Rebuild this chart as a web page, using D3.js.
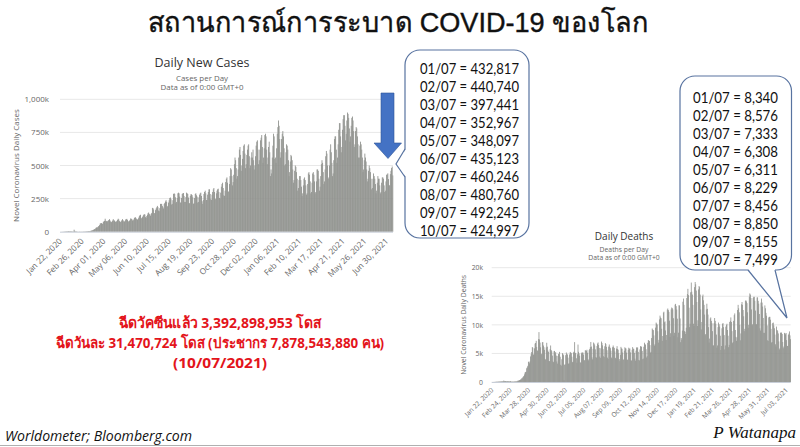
<!DOCTYPE html>
<html><head><meta charset="utf-8">
<script src="https://cdn.jsdelivr.net/npm/d3@7"></script>
<style>body{margin:0;background:#fff;} svg{display:block;}</style>
</head><body>
<svg id="c" width="800" height="447"></svg>
<script>
// ---------------- DATA ----------------
const firstDay = "2020-01-22";
const lastDay = "2021-07-10";

// Daily new cases (thousands), one line per week starting Wed Jan 22 2020
const casesK = [
0.1,0.3,0.3,0.7,0.7,0.8,1.5,
1.7,2.0,2.1,2.6,2.8,3.2,3.9,
3.7,3.2,3.4,2.7,3.0,2.5,2.0,
2.0,15.1,6.5,2.7,2.1,2.1,1.9,
0.6,0.6,1.0,1.7,0.6,0.8,1.0,
1.0,1.2,1.4,1.8,1.6,2.0,2.4,
2.5,2.8,3.9,4.0,4.1,4.0,4.9,
7.3,7.5,10.9,11.0,13.9,16.5,19.6,
21,29,32,31,34,41,43,
50,62,64,65,60,60,75,
77,82,98,83,80,72,80,
85,88,95,84,75,72,76,
84,95,86,84,76,75,77,
82,90,98,92,80,72,75,
80,88,95,86,78,76,82,
92,95,97,88,80,75,82,
88,100,98,95,85,85,92,
105,106,109,100,95,90,96,
106,118,125,128,100,105,110,
120,128,132,130,110,105,118,
128,140,145,135,128,120,135,
142,180,178,168,140,140,163,
175,184,195,185,160,155,178,
210,210,210,195,185,175,210,
218,228,238,225,190,195,220,
238,255,258,245,205,210,238,
285,290,285,260,215,225,255,
290,295,290,265,220,220,255,
285,290,292,270,225,225,262,
295,290,285,258,215,215,270,
283,282,276,260,210,215,255,
285,290,275,265,220,225,260,
280,290,295,270,230,210,240,
285,300,310,290,240,240,280,
300,320,320,285,245,240,280,
300,320,330,300,250,245,290,
310,320,325,300,255,250,295,
340,360,370,330,275,270,310,
375,400,410,370,300,305,360,
420,480,470,420,350,375,430,
510,560,540,480,400,420,470,
560,620,640,580,460,500,550,
610,650,660,590,480,510,580,
620,650,660,570,480,500,560,
600,560,620,540,470,500,570,
650,680,690,620,510,540,620,
690,710,730,640,520,560,630,
730,740,720,620,510,560,640,
680,600,420,470,440,560,650,
740,720,550,560,520,630,740,
790,840,800,700,560,600,700,
740,760,720,630,500,510,600,
660,650,620,540,420,450,530,
580,570,540,470,370,390,460,
500,490,450,400,310,330,390,
420,420,390,340,270,290,350,
400,410,390,350,280,290,360,
440,450,430,380,290,300,370,
440,450,430,380,290,300,380,
470,470,460,400,310,340,420,
510,540,520,450,360,380,470,
570,610,590,500,400,410,500,
620,660,600,520,420,440,540,
700,720,720,620,520,560,660,
770,820,820,720,600,640,770,
850,880,880,800,690,740,840,
900,890,860,780,680,720,800,
860,870,840,760,640,660,760,
790,780,720,660,560,560,650,
680,660,620,560,450,470,540,
590,560,530,470,380,400,460,
500,480,450,400,320,330,400,
440,420,400,360,290,310,370,
420,400,400,350,290,300,370,
410,410,400,350,300,310,380,
430,432.817,440.740,397.441,352.967,348.097,435.123,
460.246,480.760,492.245,424.997
];

// Daily deaths (thousands), same days
const deathsK = [
0.017,0.001,0.008,0.016,0.014,0.026,0.026,
0.038,0.043,0.046,0.045,0.058,0.064,0.066,
0.073,0.073,0.086,0.089,0.097,0.108,0.097,
0.254,0.121,0.143,0.142,0.106,0.098,0.139,
0.115,0.125,0.097,0.099,0.078,0.150,0.068,
0.061,0.063,0.069,0.058,0.072,0.070,0.090,
0.082,0.101,0.101,0.103,0.223,0.214,0.285,
0.325,0.352,0.445,0.426,0.623,0.658,0.822,
0.964,1.062,1.325,1.662,1.735,1.807,2.404,
2.580,2.832,3.548,3.519,3.272,3.611,4.476,
4.879,5.237,6.117,5.988,4.784,4.830,5.891,
6.712,6.830,7.208,6.141,5.531,5.432,7.502,
8.731,7.450,6.897,6.069,4.836,4.943,6.942,
6.990,6.383,6.083,5.626,4.037,3.905,6.057,
6.866,6.183,5.513,5.282,3.665,3.646,5.744,
6.391,5.578,5.375,4.622,3.597,3.475,5.384,
5.443,4.994,5.232,4.612,3.594,3.223,4.566,
4.926,4.803,5.271,4.419,3.024,2.856,3.985,
5.053,4.897,4.697,0.300,3.023,3.099,4.691,
5.166,4.924,4.805,4.261,3.195,3.278,4.825,
5.266,5.151,5.044,4.428,3.465,3.547,5.180,
5.314,6.982,5.106,5.020,4.158,3.373,4.849,
6.553,5.286,4.996,4.591,3.446,3.350,5.021,
5.175,5.134,5.153,4.778,3.822,3.783,5.577,
5.462,5.450,5.640,5.125,3.986,3.792,5.574,
5.790,6.109,7.005,6.205,4.313,3.961,5.804,
6.907,6.716,6.412,5.722,4.362,4.256,6.290,
6.730,6.920,6.470,5.965,4.453,4.221,5.908,
7.082,6.834,6.412,5.745,4.518,4.352,6.254,
6.802,6.634,6.152,5.560,4.265,4.028,6.193,
6.567,6.174,5.923,5.473,4.281,4.064,6.079,
6.391,6.109,5.949,5.355,4.232,3.988,5.854,
6.272,5.766,5.655,5.037,4.002,3.650,4.760,
6.149,5.885,5.814,5.164,3.868,3.958,5.480,
6.070,5.900,5.867,5.146,3.944,3.864,5.622,
6.004,5.825,5.855,5.184,3.809,3.733,5.617,
6.107,5.827,5.797,5.102,4.092,3.736,5.488,
6.050,6.016,6.045,5.277,3.861,3.774,5.706,
6.278,6.165,6.192,5.435,3.991,4.103,6.169,
6.875,6.608,6.531,5.733,4.290,4.518,6.854,
7.337,7.253,7.162,6.451,5.139,5.285,7.692,
9.363,9.156,9.075,8.156,6.372,6.614,9.513,
10.398,10.217,10.066,8.878,6.893,7.372,10.954,
11.616,11.291,11.156,9.316,7.198,8.047,12.143,
12.303,10.450,10.604,9.025,7.350,8.225,12.660,
12.862,12.576,12.262,10.734,7.867,8.540,12.698,
13.034,12.916,12.683,11.164,8.102,8.617,13.530,
13.671,13.273,12.676,11.078,7.829,8.634,13.432,
13.386,11.120,6.969,7.700,7.420,9.000,14.050,
14.600,13.500,8.900,8.800,8.400,9.500,14.700,
15.400,16.300,15.200,13.000,9.600,10.200,15.700,
17.400,15.800,15.300,13.500,10.200,9.800,16.600,
17.500,17.100,16.000,14.000,9.800,10.800,16.200,
16.800,16.600,15.300,12.700,9.200,10.500,15.000,
15.300,14.300,13.500,11.800,8.200,8.400,12.700,
13.700,12.800,11.800,9.600,6.900,7.600,11.100,
11.300,10.700,10.300,8.900,6.400,6.400,10.300,
11.200,10.700,10.200,8.300,6.000,6.400,9.600,
10.400,10.100,9.700,8.100,5.600,6.300,9.400,
10.200,10.300,9.600,8.200,5.700,6.400,9.700,
10.000,10.200,9.100,8.100,6.100,6.500,10.500,
10.700,11.300,10.500,8.900,6.800,7.000,10.700,
11.700,12.000,9.100,7.900,7.200,7.800,12.600,
13.500,12.900,12.200,10.000,7.300,8.500,13.600,
14.000,13.500,12.600,11.500,8.900,9.300,14.200,
14.300,14.100,13.800,12.200,9.500,10.000,14.900,
15.500,15.300,14.700,12.700,9.900,10.100,14.700,
14.900,14.900,14.200,12.500,10.100,10.100,14.800,
14.800,14.200,13.700,11.900,9.400,9.000,13.900,
14.600,13.900,13.200,11.200,8.600,8.600,13.400,
12.900,12.100,11.600,9.900,7.300,7.200,11.300,
11.400,11.400,10.900,9.300,6.900,7.000,10.300,
10.400,9.900,9.400,8.300,6.600,6.200,9.700,
9.100,8.900,8.500,7.100,5.700,5.900,8.600,
8.700,8.600,8.400,7.000,5.900,6.200,8.600,
8.500,8.340,8.576,7.333,6.308,6.311,8.229,
8.456,8.850,8.155,7.499
];

const caseTickLabels = ["Jan 22, 2020","Feb 26, 2020","Apr 01, 2020","May 06, 2020","Jun 10, 2020","Jul 15, 2020","Aug 19, 2020","Sep 23, 2020","Oct 28, 2020","Dec 02, 2020","Jan 06, 2021","Feb 10, 2021","Mar 17, 2021","Apr 21, 2021","May 26, 2021","Jun 30, 2021"];
const deathTickLabels = ["Jan 22, 2020","Feb 24, 2020","Mar 28, 2020","Apr 30, 2020","Jun 02, 2020","Jul 05, 2020","Aug 07, 2020","Sep 09, 2020","Oct 12, 2020","Nov 14, 2020","Dec 17, 2020","Jan 19, 2021","Feb 21, 2021","Mar 26, 2021","Apr 28, 2021","May 31, 2021","Jul 03, 2021"];
const caseYTicks = [0,250,500,750,1000];
const caseYLabels = ["0","250k","500k","750k","1,000k"];
const deathYTicks = [0,5,10,15,20];
const deathYLabels = ["0","5k","10k","15k","20k"];

const casesCallout = ["01/07 = 432,817","02/07 = 440,740","03/07 = 397,441","04/07 = 352,967","05/07 = 348,097","06/07 = 435,123","07/07 = 460,246","08/07 = 480,760","09/07 = 492,245","10/07 = 424,997"];
const deathsCallout = ["01/07 = 8,340","02/07 = 8,576","03/07 = 7,333","04/07 = 6,308","05/07 = 6,311","06/07 = 8,229","07/07 = 8,456","08/07 = 8,850","09/07 = 8,155","10/07 = 7,499"];

const pageTitle = "สถานการณ์การระบาด COVID-19 ของโลก";
const vaccineLines = ["ฉีดวัคซีนแล้ว 3,392,898,953 โดส","ฉีดวันละ 31,470,724 โดส (ประชากร 7,878,543,880 คน)","(10/07/2021)"];
const sourceText = "Worldometer;  Bloomberg.com";
const authorText = "P Watanapa";

// ---------------- DRAW ----------------
const svg = d3.select("#c");
const parse = d3.timeParse("%Y-%m-%d");
const fmt = d3.timeFormat("%b %d, %Y");
const days = d3.timeDay.range(parse(firstDay), d3.timeDay.offset(parse(lastDay), 1)).map(fmt);

svg.append("rect").attr("width",800).attr("height",447).attr("fill","#fff");

const FONT = "'Open Sans', 'Noto Sans', sans-serif";

function drawChart(o) {
  const g = svg.append("g");
  const x = d3.scaleBand().domain(days).range([o.left, o.right]).paddingInner(0).paddingOuter(0);
  const y = d3.scaleLinear().domain([0, o.yMax]).range([o.bottom, o.top]);
  g.selectAll(".grid").data(o.yTicks.filter(d => d > 0)).join("line")
    .attr("x1", o.left).attr("x2", o.right)
    .attr("y1", d => y(d)).attr("y2", d => y(d))
    .attr("stroke", "#e8e8e8").attr("stroke-width", 1);
  g.selectAll(".bar").data(o.values).join("rect")
    .attr("x", (d, i) => x(days[i]))
    .attr("width", x.bandwidth() + 0.25)
    .attr("y", d => y(d))
    .attr("height", d => Math.max(0, o.bottom - y(d)))
    .attr("fill", "#90928e");
  g.append("line").attr("x1", o.left).attr("x2", o.right).attr("y1", o.bottom + 0.5).attr("y2", o.bottom + 0.5)
    .attr("stroke", "#c8ced8").attr("stroke-width", 1);
  const ya = d3.axisLeft(y).tickValues(o.yTicks).tickSize(0).tickPadding(0)
    .tickFormat((d, i) => o.yLabels[i]);
  g.append("g").attr("transform", `translate(${o.yLabelX},0)`).call(ya)
    .call(s => s.select(".domain").remove())
    .selectAll("text").attr("font-family", FONT).attr("font-size", o.yFs).attr("fill", "#666");
  const xa = d3.axisBottom(x).tickValues(o.xTicks).tickSize(0).tickPadding(0);
  const xg = g.append("g").attr("transform", `translate(0,${o.bottom + o.xOff})`).call(xa);
  xg.select(".domain").remove();
  xg.selectAll("text").attr("font-family", FONT).attr("font-size", o.xFs).attr("fill", "#666")
    .attr("text-anchor", "end").attr("dy", "0.35em").attr("y", 0)
    .attr("transform", "rotate(-45)");
  g.append("text").attr("transform", `translate(${o.yTitleX},${(o.top + o.bottom) / 2}) rotate(-90)`)
    .attr("text-anchor", "middle").attr("font-family", FONT).attr("font-size", o.yTitleFs).attr("fill", "#666")
    .text(o.yTitle);
  g.append("text").attr("x", o.titleX).attr("y", o.titleY).attr("text-anchor", "middle")
    .attr("font-family", FONT).attr("font-size", o.titleFs).attr("fill", "#333").text(o.title);
  o.subtitles.forEach((t, i) => {
    g.append("text").attr("x", o.titleX).attr("y", o.subY + i * o.subStep).attr("text-anchor", "middle")
      .attr("font-family", FONT).attr("font-size", o.subFs).attr("fill", "#666").text(t);
  });
}

drawChart({
  values: casesK, left: 60, right: 393, top: 99.3, bottom: 231.7, yMax: 1000,
  yTicks: caseYTicks, yLabels: caseYLabels, yLabelX: 49, yFs: 8,
  xTicks: caseTickLabels, xOff: 8, xFs: 8.2,
  yTitle: "Novel Coronavirus Daily Cases", yTitleX: 19, yTitleFs: 8,
  title: "Daily New Cases", titleX: 202, titleY: 67, titleFs: 12.5,
  subtitles: ["Cases per Day", "Data as of 0:00 GMT+0"], subY: 80.5, subStep: 9.6, subFs: 7.9
});

drawChart({
  values: deathsK, left: 491.7, right: 790.7, top: 267.7, bottom: 382, yMax: 20,
  yTicks: deathYTicks, yLabels: deathYLabels, yLabelX: 483, yFs: 6.8,
  xTicks: deathTickLabels, xOff: 7, xFs: 6.6,
  yTitle: "Novel Coronavirus Daily Deaths", yTitleX: 466, yTitleFs: 6.8,
  title: "Daily Deaths", titleX: 624, titleY: 239.5, titleFs: 10,
  subtitles: ["Deaths per Day", "Data as of 0:00 GMT+0"], subY: 251.5, subStep: 8.2, subFs: 6.8
});

svg.append("text").attr("x", 148).attr("y", 32).attr("font-family", "'Liberation Sans', Arial, sans-serif")
  .attr("font-size", 28).attr("fill", "#111").attr("stroke", "#111").attr("stroke-width", 0.4)
  .attr("textLength", 500).attr("lengthAdjust", "spacingAndGlyphs").text(pageTitle);

const arrowPts = [[381, 93], [394, 93], [394, 143], [401.5, 143], [388, 158.5], [374, 143], [381, 143]];
svg.append("path").attr("d", d3.line()(arrowPts) + "Z").attr("fill", "#4472c4").attr("stroke", "#2f5597").attr("stroke-width", 0.6);

function callout(box, tail, lines, tx, ty0, step, fs, tw) {
  const g = svg.append("g");
  g.append("rect").attr("x", box.x).attr("y", box.y).attr("width", box.w).attr("height", box.h)
    .attr("rx", 15).attr("ry", 15).attr("fill", "#fff").attr("stroke", "#5873a0").attr("stroke-width", 1.2);
  g.append("path").attr("d", d3.line()(tail.cover) + "Z").attr("fill", "#fff");
  g.append("path").attr("d", d3.line()(tail.line)).attr("fill", "none").attr("stroke", "#5873a0").attr("stroke-width", 1.2);
  lines.forEach((t, i) => {
    g.append("text").attr("x", tx).attr("y", ty0 + i * step)
      .attr("font-family", "Lato, 'Open Sans', sans-serif").attr("font-size", fs).attr("fill", "#111")
      .attr("textLength", tw).attr("lengthAdjust", "spacingAndGlyphs").text(t);
  });
}
callout({x: 405, y: 50, w: 124, h: 188},
  {cover: [[406, 149], [396, 164], [406, 177]], line: [[405, 149], [396, 164], [405, 177]]},
  casesCallout, 420, 73.5, 18, 15.5, 99);
callout({x: 680, y: 76, w: 111.5, h: 194},
  {cover: [[748, 269], [787, 318], [775, 269]], line: [[748, 270], [787, 318], [775, 270]]},
  deathsCallout, 693, 102.5, 18, 15.5, 85);

const red = "#e3141b";
const vy = [328, 348, 368], vw = [203, 328, 94];
vaccineLines.forEach((t, i) => {
  svg.append("text").attr("x", 220).attr("y", vy[i]).attr("text-anchor", "middle")
    .attr("font-family", "'Open Sans', 'Noto Sans', sans-serif").attr("font-weight", "bold")
    .attr("font-size", 15).attr("fill", red)
    .attr("textLength", vw[i]).attr("lengthAdjust", "spacingAndGlyphs").text(t);
});

svg.append("text").attr("x", 5).attr("y", 441).attr("font-family", "'Open Sans', sans-serif")
  .attr("font-style", "italic").attr("font-size", 15).attr("fill", "#111")
  .attr("textLength", 187).attr("lengthAdjust", "spacingAndGlyphs").text(sourceText);
svg.append("text").attr("x", 796).attr("y", 438).attr("text-anchor", "end")
  .attr("font-family", "'Liberation Serif', 'DejaVu Serif', serif")
  .attr("font-style", "italic").attr("font-size", 17).attr("fill", "#111").text(authorText);
svg.append("line").attr("x1", 0).attr("x2", 800).attr("y1", 445.5).attr("y2", 445.5).attr("stroke", "#b0b0b0").attr("stroke-width", 1);
</script>
</body></html>
